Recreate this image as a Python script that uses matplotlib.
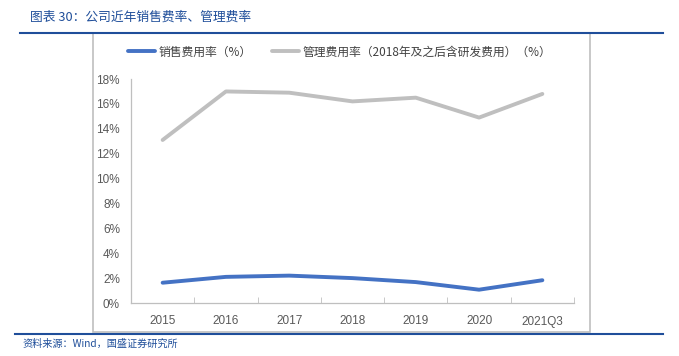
import matplotlib.pyplot as plt
from matplotlib.lines import Line2D
from matplotlib.patches import Rectangle
from matplotlib.ticker import FuncFormatter

plt.rcParams['font.family'] = ['Liberation Sans', 'Noto Sans CJK SC', 'DejaVu Sans']

years = ['2015', '2016', '2017', '2018', '2019', '2020', '2021Q3']
sales_rate = [1.63, 2.10, 2.20, 2.00, 1.68, 1.07, 1.83]
admin_rate = [13.1, 17.0, 16.9, 16.2, 16.5, 14.9, 16.8]

W, H = 679, 356
fig = plt.figure(figsize=(W / 100, H / 100), dpi=100)

ax = fig.add_axes([131 / W, 1 - 303 / H, (574 - 131) / W, (303 - 79) / H])
x = range(len(years))
ax.plot(x, sales_rate, color='#4472C4', lw=2.8, solid_capstyle='round', label='销售费用率（%）')
ax.plot(x, admin_rate, color='#BFBFBF', lw=2.8, solid_capstyle='round',
        label='管理费用率（2018年及之后含研发费用）（%）')

ax.set_xlim(-0.5, len(years) - 0.5)
ax.set_ylim(0, 18)
ax.set_yticks(range(0, 19, 2))
ax.yaxis.set_major_formatter(FuncFormatter(lambda v, p: f'{v:.0f}%'))
ax.set_xticks(x)
ax.set_xticklabels(years)
ax.set_xticks([i + 0.5 for i in range(-1, len(years))], minor=True)
ax.tick_params(axis='x', which='major', length=0, pad=9, labelsize=8.5, labelcolor='#595959')
ax.tick_params(axis='x', which='minor', length=4, direction='in', color='#BFBFBF')
ax.tick_params(axis='y', length=0, pad=8, labelsize=8.5, labelcolor='#595959')
for s in ['top', 'right']:
    ax.spines[s].set_visible(False)
for s in ['left', 'bottom']:
    ax.spines[s].set_color('#BFBFBF')
    ax.spines[s].set_linewidth(0.9)

leg = fig.legend(loc='center', bbox_to_anchor=(340 / W, 1 - 52 / H), ncol=2, frameon=False,
                 fontsize=8.5, handlelength=2.3, columnspacing=1.7, handletextpad=0.3)
for t in leg.get_texts():
    t.set_color('#404040')
    t.set_family(['Noto Sans CJK SC', 'DejaVu Sans'])

# chart frame and report rules
fig.add_artist(Rectangle((93 / W, 1 - 332 / H), (590 - 93) / W, (332 - 33) / H,
                         transform=fig.transFigure, fill=False, ec='#BFBFBF', lw=1.2))
fig.add_artist(Line2D([20 / W, 663 / W], [1 - 32.5 / H] * 2, color='#1F4E9A', lw=1.5))
fig.add_artist(Line2D([15 / W, 663 / W], [1 - 334 / H] * 2, color='#1F4E9A', lw=1.5))

fig.text(30 / W, 1 - 17 / H, '图表 30：公司近年销售费率、管理费率', fontsize=9.2, color='#1F4E9A',
         va='center', ha='left', family=['Noto Sans CJK SC', 'DejaVu Sans'], style='italic')
fig.text(22 / W, 1 - 344 / H, '资料来源：Wind，国盛证券研究所', fontsize=7.3, color='#1F4E9A',
         va='center', ha='left', family=['Noto Sans CJK SC', 'DejaVu Sans'], style='italic')

fig.savefig('out.png', dpi=100)
